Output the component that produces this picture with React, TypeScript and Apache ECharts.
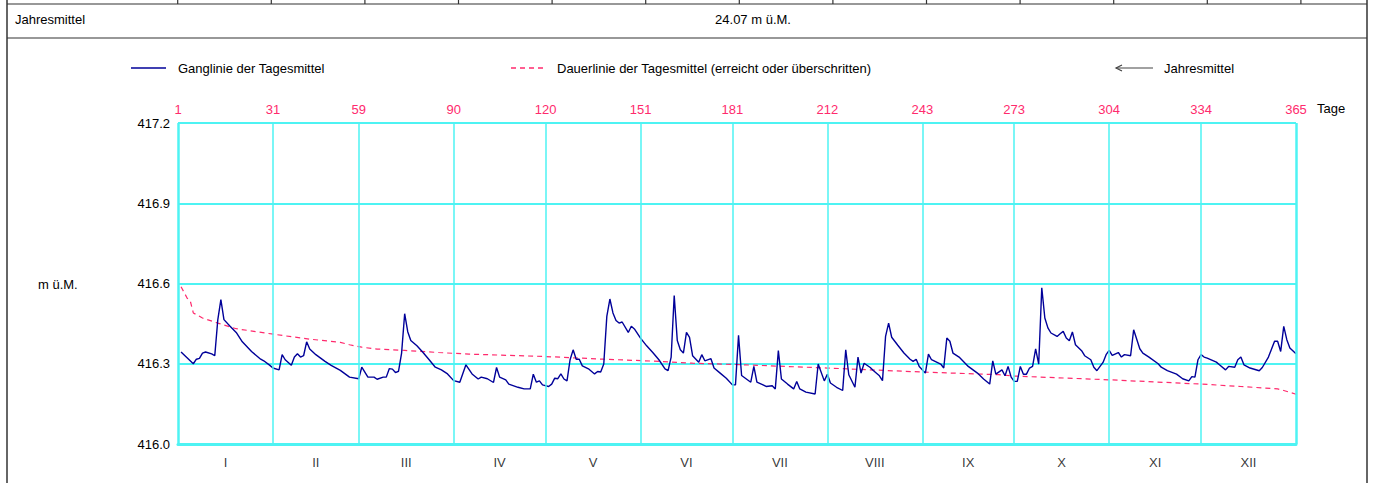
import React, { useEffect, useRef } from "react";
import * as echarts from "echarts";

const BASE = 416;
const yTickStep = 0.3;
const monthEnds = [0, 31, 59, 90, 120, 151, 181, 212, 243, 273, 304, 334, 365];
const dayLabels = ["1", "31", "59", "90", "120", "151", "181", "212", "243", "273", "304", "334", "365"];
const monthNames = ["I", "II", "III", "IV", "V", "VI", "VII", "VIII", "IX", "X", "XI", "XII"];

// Ganglinie der Tagesmittel (day, m ü.M.)
const gangDays = [
  1, 5, 6, 7, 8, 9, 11, 12, 13, 14, 15, 17, 19, 21, 24, 27, 28, 30, 31, 33, 34, 35, 37, 38, 39, 40, 41, 42, 43, 45, 48, 50, 53, 56, 59,
  60, 62, 64, 65, 67, 68, 69, 70, 71, 72, 73, 74, 75, 76, 78, 80, 82, 84, 86, 88, 90,
  92, 94, 96, 98, 99, 101, 103, 104, 105, 107, 108, 111, 113, 115, 116, 117, 118, 119,
  121, 122, 123, 124, 125, 126, 127, 128, 129, 130, 131, 132, 134, 136, 137, 138, 139, 140, 141, 142, 143, 144, 145, 147, 148, 149,
  151, 153, 155, 157, 159, 160, 161, 162, 163, 164, 165, 166, 167, 168, 170, 171, 172, 174, 175, 177, 179,
  181, 182, 183, 184, 187, 188, 189, 191, 192, 194, 195, 196, 197, 199, 201, 202, 203, 205, 208, 209, 211,
  212, 213, 215, 217, 218, 219, 221, 222, 223, 224, 226, 227, 229, 230, 231, 232, 233, 235, 237, 239, 240, 241, 242,
  244, 245, 246, 249, 250, 251, 252, 253, 255, 258, 261, 263, 265, 266, 267, 269, 270, 271, 272,
  273, 274, 275, 276, 277, 278, 279, 280, 281, 282, 283, 284, 285, 287, 288, 289, 290, 291, 292, 293, 295, 296, 298, 299, 300, 302, 303,
  304, 305, 307, 308, 309, 311, 312, 314, 315, 317, 320, 321, 323, 326, 328, 330, 331, 332, 333,
  334, 335, 336, 339, 340, 342, 343, 345, 346, 347, 348, 350, 353, 354, 356, 358, 359, 360, 361, 362, 363, 365,
];
const gangLevels = [
  416.344, 416.3, 416.317, 416.32, 416.34, 416.344, 416.337, 416.33, 416.465, 416.54, 416.465, 416.44, 416.417, 416.382, 416.346, 416.317, 416.311, 416.294, 416.284, 416.277, 416.334, 416.315, 416.294, 416.325, 416.337, 416.325, 416.33, 416.382, 416.355, 416.334, 416.309, 416.294, 416.275, 416.25, 416.244,
  416.287, 416.25, 416.25, 416.242, 416.25, 416.25, 416.282, 416.28, 416.267, 416.272, 416.34, 416.487, 416.42, 416.387, 416.367, 416.342, 416.315, 416.287, 416.277, 416.262, 416.237,
  416.231, 416.296, 416.262, 416.243, 416.25, 416.244, 416.23, 416.286, 416.25, 416.24, 416.224, 416.212, 416.206, 416.206, 416.261, 416.231, 416.236, 416.221,
  416.215, 416.224, 416.246, 416.244, 416.262, 416.243, 416.236, 416.315, 416.352, 416.317, 416.317, 416.292, 416.281, 416.262, 416.271, 416.269, 416.299, 416.477, 416.542, 416.49, 416.462, 416.452, 416.456, 416.417, 416.44, 416.43,
  416.396, 416.367, 416.342, 416.315, 416.281, 416.274, 416.325, 416.555, 416.387, 416.352, 416.34, 416.417, 416.399, 416.33, 416.306, 416.334, 416.311, 416.319, 416.284, 416.265, 416.246,
  416.221, 416.221, 416.406, 416.256, 416.231, 416.29, 416.231, 416.221, 416.215, 416.218, 416.206, 416.349, 416.243, 416.224, 416.206, 416.234, 416.206, 416.194, 416.187, 416.299, 416.236,
  416.261, 416.228, 416.212, 416.2, 416.352, 416.259, 416.212, 416.325, 416.265, 416.302, 416.286, 416.275, 416.255, 416.237, 416.402, 416.452, 416.399, 416.369, 416.34, 416.317, 416.309, 416.317, 416.29,
  416.265, 416.336, 416.315, 416.299, 416.284, 416.396, 416.384, 416.34, 416.325, 416.29, 416.265, 416.243, 416.224, 416.311, 416.261, 416.277, 416.255, 416.29, 416.25,
  416.234, 416.234, 416.29, 416.261, 416.261, 416.284, 416.29, 416.356, 416.299, 416.584, 416.471, 416.434, 416.415, 416.402, 416.412, 416.421, 416.396, 416.386, 416.419, 416.371, 416.349, 416.33, 416.315, 416.287, 416.274, 416.305, 416.334,
  416.35, 416.331, 416.342, 416.325, 416.334, 416.33, 416.427, 416.356, 416.34, 416.325, 416.3, 416.287, 416.274, 416.261, 416.244, 416.236, 416.252, 416.25, 416.315,
  416.334, 416.325, 416.321, 416.306, 416.296, 416.277, 416.29, 416.287, 416.315, 416.325, 416.296, 416.284, 416.274, 416.286, 416.325, 416.384, 416.384, 416.346, 416.44, 416.39, 416.359, 416.337,
];

// Dauerlinie der Tagesmittel (day, m ü.M.)
const dauerDays = [1, 3, 4, 5, 8, 13, 19, 26, 32, 43, 53, 56, 60, 65, 74, 85, 95, 120, 139, 157, 168, 185, 212, 243, 268, 273, 304, 334, 347, 359, 361, 365];
const dauerLevels = [
  416.588, 416.545, 416.535, 416.49, 416.471, 416.452, 416.431, 416.419, 416.409, 416.392, 416.38, 416.371, 416.362, 416.355, 416.35, 416.342, 416.336,
  416.327, 416.317, 416.309, 416.302, 416.296, 416.284, 416.269, 416.259, 416.254, 416.24, 416.224, 416.215, 416.206, 416.2, 416.186,
];

const jahresmittelText = "24.07 m ü.M.";

const FONT = '"Liberation Sans", Arial, sans-serif';
const CYAN = "#4ef3f3";
const BLUE = "#000099";
const PINK = "#ff2a6d";
const BORDER = "#333333";

export default function App() {
  const ref = useRef<HTMLDivElement>(null);

  useEffect(() => {
    if (!ref.current) return;
    const chart = echarts.init(ref.current, null, { renderer: "svg" });

    const monthMids = monthNames.map((_, i) => [(monthEnds[i] + monthEnds[i + 1]) / 2, 0]);

    const tableTicks: any[] = [];
    for (let k = 0; k <= 12; k++) {
      const x = 177.7 + k * 93.6;
      tableTicks.push({
        type: "line",
        shape: { x1: x, y1: 0, x2: x, y2: 4 },
        style: { stroke: BORDER, lineWidth: 1.2 },
        silent: true,
      });
    }

    const txt = (x: number, y: number, text: string, extra: any = {}) => ({
      type: "text",
      x,
      y,
      style: { text, fill: "#000", font: `13px ${FONT}`, textVerticalAlign: "middle", ...extra },
      silent: true,
    });

    chart.setOption({
      animation: false,
      backgroundColor: "#ffffff",
      textStyle: { fontFamily: FONT },
      grid: { left: 178, right: 78, top: 123, bottom: 39, containLabel: false },
      xAxis: {
        type: "value",
        min: 0,
        max: 365,
        axisLine: { show: true, lineStyle: { color: CYAN, width: 3 } },
        axisTick: { show: false },
        axisLabel: { show: false },
        splitLine: { show: false },
      },
      yAxis: {
        type: "value",
        min: 0,
        max: 1.2,
        interval: yTickStep,
        axisLine: { show: false },
        axisTick: { show: false },
        axisLabel: {
          color: "#000",
          fontSize: 13,
          fontFamily: FONT,
          margin: 8,
          formatter: (v: number) => (BASE + v).toFixed(1),
        },
        splitLine: { show: true, lineStyle: { color: CYAN, width: 2 } },
      },
      series: [
        {
          name: "months",
          type: "scatter",
          z: 1,
          silent: true,
          symbolSize: 1,
          itemStyle: { color: "rgba(0,0,0,0)" },
          data: monthMids,
          label: {
            show: true,
            position: "bottom",
            distance: 11,
            color: "#000",
            fontSize: 13,
            fontFamily: FONT,
            formatter: (p: any) => monthNames[p.dataIndex],
          },
          markLine: {
            silent: true,
            symbol: ["none", "none"],
            animation: false,
            lineStyle: { color: CYAN, width: 1.5, type: "solid" },
            label: {
              show: true,
              position: "end",
              distance: 7,
              color: PINK,
              fontSize: 13,
              fontFamily: FONT,
            },
            data: monthEnds.map((d, i) => ({
              xAxis: d,
              lineStyle: { color: CYAN, width: i === 0 || i === monthEnds.length - 1 ? 2.5 : 1.5, type: "solid" },
              label: { formatter: dayLabels[i] },
            })),
          },
        },
        {
          name: "Dauerlinie der Tagesmittel (erreicht oder überschritten)",
          type: "line",
          z: 2,
          silent: true,
          showSymbol: false,
          symbol: "none",
          lineStyle: { color: PINK, width: 1.2, type: [5, 4] },
          data: dauerDays.map((d, i) => [d, dauerLevels[i] - BASE]),
        },
        {
          name: "Ganglinie der Tagesmittel",
          type: "line",
          z: 3,
          silent: true,
          showSymbol: false,
          symbol: "none",
          lineStyle: { color: BLUE, width: 1.4 },
          data: gangDays.map((d, i) => [d, gangLevels[i] - BASE]),
        },
      ],
      graphic: [
        // table frame
        { type: "line", shape: { x1: 7, y1: 0, x2: 7, y2: 483 }, style: { stroke: BORDER, lineWidth: 1.5 }, silent: true },
        { type: "line", shape: { x1: 1367, y1: 0, x2: 1367, y2: 483 }, style: { stroke: BORDER, lineWidth: 1.5 }, silent: true },
        { type: "line", shape: { x1: 7, y1: 4, x2: 1367, y2: 4 }, style: { stroke: BORDER, lineWidth: 1.2 }, silent: true },
        { type: "line", shape: { x1: 7, y1: 38, x2: 1367, y2: 38 }, style: { stroke: BORDER, lineWidth: 1.2 }, silent: true },
        ...tableTicks,
        txt(15, 19, "Jahresmittel"),
        txt(753, 19, jahresmittelText, { textAlign: "center" }),
        // legend
        { type: "line", shape: { x1: 131, y1: 68, x2: 166, y2: 68 }, style: { stroke: BLUE, lineWidth: 1.5 }, silent: true },
        txt(178, 68, "Ganglinie der Tagesmittel"),
        { type: "line", shape: { x1: 511, y1: 68, x2: 543, y2: 68 }, style: { stroke: PINK, lineWidth: 1.3, lineDash: [5, 4] }, silent: true },
        txt(557, 68, "Dauerlinie der Tagesmittel (erreicht oder überschritten)"),
        { type: "line", shape: { x1: 1116, y1: 68, x2: 1153, y2: 68 }, style: { stroke: "#444", lineWidth: 1.2 }, silent: true },
        { type: "polyline", shape: { points: [[1122, 65], [1116, 68], [1122, 71]] }, style: { stroke: "#444", lineWidth: 1.2, fill: "none" }, silent: true },
        txt(1164, 68, "Jahresmittel"),
        // axis names
        txt(1317, 108, "Tage"),
        txt(38, 284, "m ü.M."),
      ],
    });

    return () => chart.dispose();
  }, []);

  return <div ref={ref} style={{ position: "fixed", left: 0, top: 0, width: 1374, height: 483 }} />;
}
